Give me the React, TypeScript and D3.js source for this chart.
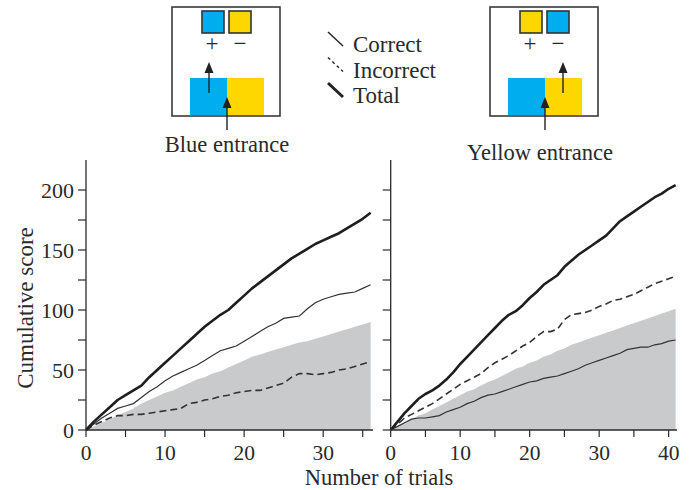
import React from "react";
import * as d3 from "d3";

// ---------- data (cumulative scores per trial, index = trial number) ----------
const leftCorrect = [0,5,10,14,18,20,22,27,32,36,41,45,48,51,54,58,62,66,68,70,74,78,82,86,89,93,94,95,101,106,109,111,113,114,115,118,121];
const leftIncorrect = [0,4,7,10,12,12,13,13,14,15,16,17,18,22,23,25,26,28,29,31,32,33,33,35,37,39,44,47,47,46,47,48,50,51,53,55,57];
const leftTotal = [0,7,13,19,25,29,33,37,44,50,56,62,68,74,80,86,91,96,100,106,112,118,123,128,133,138,143,147,151,155,158,161,164,168,172,176,181];
const leftChance = [0,3,6,9,12,15,18,22,25,28,31,33,36,39,42,44,47,49,52,55,58,61,63,65,67,69,71,73,74,76,78,80,82,84,86,88,90];

const rightCorrect = [0,3,6,9,10,10,11,12,15,17,19,22,24,27,29,30,32,34,36,38,40,41,43,44,45,47,49,51,54,56,58,60,62,64,67,68,69,69,71,72,74,75];
const rightIncorrect = [0,5,10,13,16,19,22,26,30,34,38,41,44,47,52,56,59,62,66,70,73,78,82,82,84,92,96,97,98,100,103,105,108,109,111,113,116,119,122,124,126,128];
const rightTotal = [0,7,14,20,26,30,33,37,42,48,55,61,67,73,79,85,91,96,99,104,110,115,121,125,129,136,141,146,150,154,158,162,168,174,178,182,186,190,194,197,201,204];
const rightChance = [0,3,6,9,12,14,17,20,23,26,29,32,34,37,40,42,45,48,51,53,56,58,61,63,66,68,71,73,75,77,79,81,83,85,87,89,91,93,95,97,99,101];

const yTicks = [0,25,50,75,100,125,150,175,200];
const yLabels = [0,50,100,150,200];
const leftXTicks = [0,5,10,15,20,25,30,35];
const leftXLabels = [0,10,20,30];
const rightXTicks = [0,5,10,15,20,25,30,35,40];
const rightXLabels = [0,10,20,30,40];

const legendItems = ["Correct", "Incorrect", "Total"];

const FONT = "'Liberation Serif', 'DejaVu Serif', serif";
const INK = "#2a2a2a";
const BLUE = "#00aeef";
const YELLOW = "#ffd700";
const GREY = "#c9cacc";

const yScale = d3.scaleLinear().domain([0, 225]).range([430, 160]);

type PanelProps = {
  correct: number[];
  incorrect: number[];
  total: number[];
  chance: number[];
  xMax: number;
  range: [number, number];
  ticks: number[];
  labels: number[];
  showY: boolean;
};

function Panel({ correct, incorrect, total, chance, xMax, range, ticks, labels, showY }: PanelProps) {
  const x = d3.scaleLinear().domain([0, xMax]).range(range);
  const y = yScale;
  const line = d3.line<number>().x((_, i) => x(i)).y((d) => y(d));
  const area = d3.area<number>().x((_, i) => x(i)).y0(y(0)).y1((d) => y(d));
  const x0 = range[0];
  return (
    <g>
      <path d={area(chance) || ""} fill={GREY} stroke="none" />
      <path d={line(incorrect) || ""} fill="none" stroke="#333" strokeWidth={1.6} strokeDasharray="7,4" />
      <path d={line(correct) || ""} fill="none" stroke="#333" strokeWidth={1.2} />
      <path d={line(total) || ""} fill="none" stroke="#1e1e1e" strokeWidth={2.6} strokeLinejoin="round" />
      {/* axes */}
      <line x1={x0} x2={x0} y1={y(225)} y2={y(0)} stroke={INK} strokeWidth={1.3} />
      <line x1={x0} x2={range[1]} y1={y(0)} y2={y(0)} stroke={INK} strokeWidth={1.3} />
      {yTicks.map((t) => (
        <line key={"yt" + t} x1={x0 - 8} x2={x0} y1={y(t)} y2={y(t)} stroke={INK} strokeWidth={1.2} />
      ))}
      {showY &&
        yLabels.map((t) => (
          <text key={"yl" + t} x={x0 - 12} y={y(t)} dy="0.35em" textAnchor="end" fontSize={22} fontFamily={FONT} fill={INK}>
            {t}
          </text>
        ))}
      {ticks.map((t) => (
        <line key={"xt" + t} x1={x(t)} x2={x(t)} y1={y(0)} y2={y(0) + 7} stroke={INK} strokeWidth={1.2} />
      ))}
      {labels.map((t) => (
        <text key={"xl" + t} x={x(t)} y={459.5} textAnchor="middle" fontSize={21.5} fontFamily={FONT} fill={INK}>
          {t}
        </text>
      ))}
    </g>
  );
}

function Arrow({ x, y1, y2 }: { x: number; y1: number; y2: number }) {
  return (
    <g>
      <line x1={x} x2={x} y1={y1} y2={y2 + 8} stroke="#222" strokeWidth={1.4} />
      <polygon points={`${x},${y2} ${x - 4.5},${y2 + 11} ${x + 4.5},${y2 + 11}`} fill="#222" />
    </g>
  );
}

function Diagram({ bx, smallFirst, smallSecond, arrowPlusX, arrowEntranceX }: {
  bx: number; smallFirst: string; smallSecond: string; arrowPlusX: number; arrowEntranceX: number;
}) {
  return (
    <g>
      <rect x={bx} y={7} width={108} height={109} fill="#fff" stroke="#3a3a3a" strokeWidth={1.6} />
      <rect x={bx + 30} y={11} width={22} height={22} fill={smallFirst} stroke="#333" strokeWidth={1.6} />
      <rect x={bx + 57} y={11} width={22} height={22} fill={smallSecond} stroke="#333" strokeWidth={1.6} />
      <text x={bx + 40} y={43} dy="0.35em" textAnchor="middle" fontSize={23} fontFamily={FONT} fill={INK}>+</text>
      <text x={bx + 68} y={43} dy="0.35em" textAnchor="middle" fontSize={23} fontFamily={FONT} fill={INK}>−</text>
      <rect x={bx + 18} y={78} width={37} height={37} fill={BLUE} />
      <rect x={bx + 55} y={78} width={37} height={37} fill={YELLOW} />
      <Arrow x={arrowPlusX} y1={93} y2={62} />
      <Arrow x={arrowEntranceX} y1={130} y2={97} />
    </g>
  );
}

export default function App() {
  return (
    <svg width={693} height={490} style={{ position: "absolute", left: 0, top: 0, background: "#fff" }}>
      <rect width={693} height={490} fill="#fff" />
      <Diagram bx={172} smallFirst={BLUE} smallSecond={YELLOW} arrowPlusX={209} arrowEntranceX={227} />
      <Diagram bx={490} smallFirst={YELLOW} smallSecond={BLUE} arrowPlusX={563} arrowEntranceX={545} />
      <text x={227} y={152} textAnchor="middle" fontSize={22.5} fontFamily={FONT} fill={INK}>Blue entrance</text>
      <text x={540} y={160} textAnchor="middle" fontSize={22.5} fontFamily={FONT} fill={INK}>Yellow entrance</text>

      {/* legend */}
      {legendItems.map((name, i) => (
        <g key={name}>
          <line
            x1={328} y1={32 + i * 25.5} x2={343} y2={46 + i * 25.5}
            stroke="#222"
            strokeWidth={i === 2 ? 3 : 1.4}
            strokeDasharray={i === 1 ? "3,3" : undefined}
          />
          <text x={353} y={52 + i * 25.5} fontSize={23} fontFamily={FONT} fill={INK}>{name}</text>
        </g>
      ))}

      <Panel correct={leftCorrect} incorrect={leftIncorrect} total={leftTotal} chance={leftChance}
        xMax={36.3} range={[86, 373]} ticks={leftXTicks} labels={leftXLabels} showY={true} />
      <Panel correct={rightCorrect} incorrect={rightIncorrect} total={rightTotal} chance={rightChance}
        xMax={41.2} range={[390.7, 677]} ticks={rightXTicks} labels={rightXLabels} showY={false} />

      <text transform="translate(33,308) rotate(-90)" textAnchor="middle" fontSize={23} fontFamily={FONT} fill={INK}>
        Cumulative score
      </text>
      <text x={379} y={485} textAnchor="middle" fontSize={22.5} fontFamily={FONT} fill={INK}>Number of trials</text>
    </svg>
  );
}
